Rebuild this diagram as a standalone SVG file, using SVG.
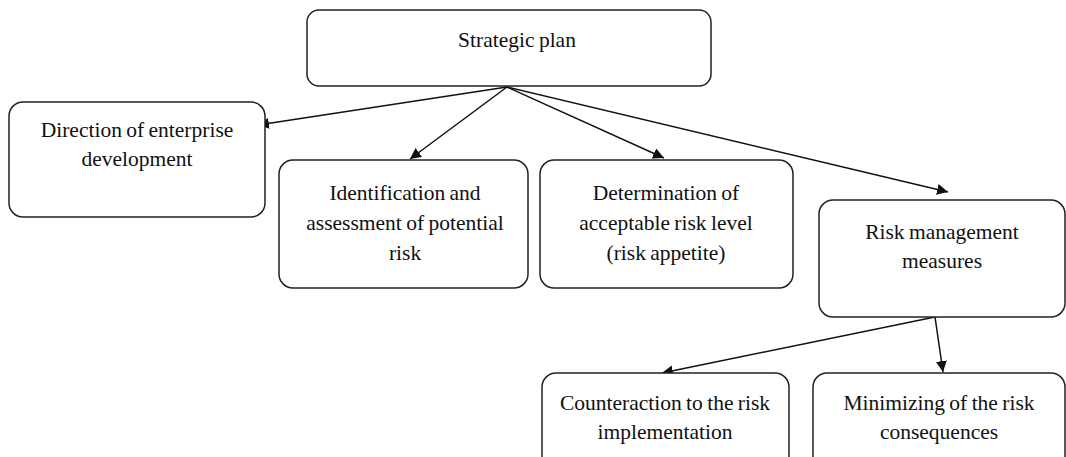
<svg xmlns="http://www.w3.org/2000/svg" width="1066" height="457" viewBox="0 0 1066 457">
<style>
.box{fill:#fff;stroke:#222;stroke-width:1.5}
.t{font-family:"Liberation Serif","Times New Roman",serif;font-size:21.5px;fill:#111;text-anchor:middle;word-spacing:-1px}
.c{stroke:#111;stroke-width:1.5;fill:none;marker-end:url(#ah)}
</style>
<defs>
<marker id="ah" viewBox="0 0 10 10" refX="10" refY="5" markerWidth="11" markerHeight="11" markerUnits="userSpaceOnUse" orient="auto">
<path d="M0,0 L10,5 L0,10 z" fill="#111"/>
</marker>
</defs>
<rect width="1066" height="457" fill="#fff"/>
<g id="connectors">
<line class="c" x1="507" y1="87" x2="258" y2="125"/>
<line class="c" x1="507" y1="87" x2="410" y2="159"/>
<line class="c" x1="507" y1="87" x2="664" y2="158"/>
<line class="c" x1="507" y1="87" x2="948" y2="192"/>
<line class="c" x1="935" y1="317" x2="662" y2="373"/>
<line class="c" x1="935" y1="317" x2="943" y2="372"/>
</g>
<g id="strategic">
<rect class="box" x="307" y="10" width="404" height="76" rx="12"/>
<text class="t" x="517" y="47">Strategic plan</text>
</g>
<g id="direction">
<rect class="box" x="9" y="102" width="256" height="115" rx="14"/>
<text class="t" x="137" y="137">Direction  of enterprise</text>
<text class="t" x="137" y="166">development</text>
</g>
<g id="identification">
<rect class="box" x="279" y="160" width="249" height="128" rx="14"/>
<text class="t" x="405" y="200">Identification and</text>
<text class="t" x="405" y="230">assessment of potential</text>
<text class="t" x="405" y="260">risk</text>
</g>
<g id="determination">
<rect class="box" x="540" y="160" width="253" height="128" rx="14"/>
<text class="t" x="666" y="200">Determination  of</text>
<text class="t" x="666" y="230">acceptable risk level</text>
<text class="t" x="666" y="260">(risk  appetite)</text>
</g>
<g id="riskmgmt">
<rect class="box" x="819" y="200" width="246" height="117" rx="14"/>
<text class="t" x="942" y="239">Risk management</text>
<text class="t" x="942" y="268">measures</text>
</g>
<g id="counteraction">
<rect class="box" x="542" y="373" width="247" height="100" rx="14"/>
<text class="t" x="665" y="410">Counteraction to the risk</text>
<text class="t" x="665" y="439">implementation</text>
</g>
<g id="minimizing">
<rect class="box" x="813" y="373" width="252" height="100" rx="14"/>
<text class="t" x="939" y="410">Minimizing  of the risk</text>
<text class="t" x="939" y="439">consequences</text>
</g>
</svg>
